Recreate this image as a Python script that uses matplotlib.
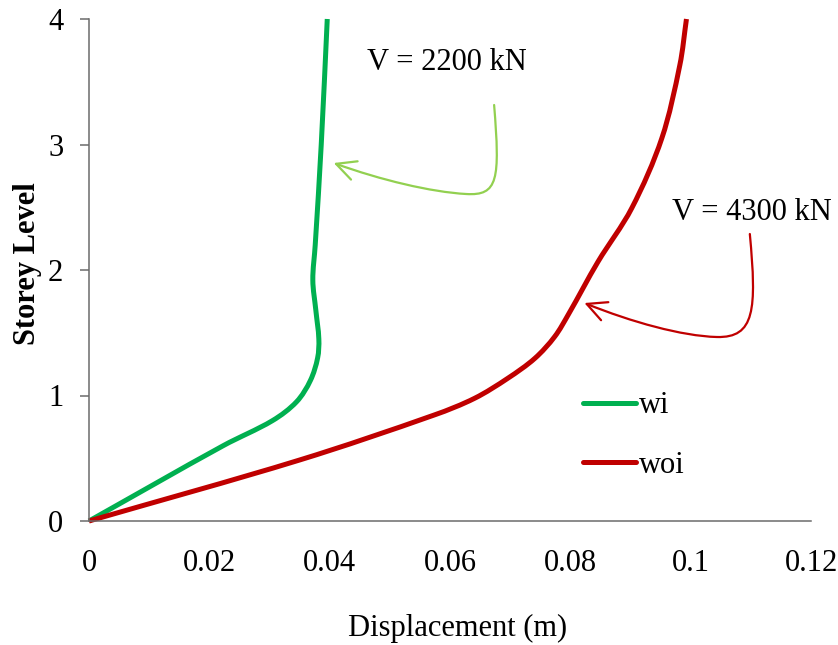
import matplotlib
matplotlib.use("Agg")
import matplotlib.pyplot as plt
import numpy as np
from matplotlib.path import Path
from matplotlib.patches import FancyArrowPatch, PathPatch
from matplotlib.lines import Line2D

plt.rcParams['font.family'] = ['Liberation Serif', 'DejaVu Serif']

# ---- data ----
wi_x = [0, 0.0223, 0.0305, 0.0345, 0.0368, 0.0380, 0.0382, 0.0377, 0.0372, 0.0376, 0.0386, 0.0396]
wi_y = [0, 0.60, 0.80, 0.95, 1.12, 1.30, 1.45, 1.68, 1.92, 2.20, 3.00, 4.00]

woi_x = [0, 0.0350, 0.0574, 0.0641, 0.0696, 0.0741, 0.0774, 0.0797, 0.0846, 0.0902,
         0.0952, 0.0982, 0.0993]
woi_y = [0, 0.486, 0.845, 0.978, 1.137, 1.296, 1.469, 1.648, 2.066, 2.492,
         3.049, 3.633, 4.00]

series_names = ['wi', 'woi']
series_colors = ['#00B050', '#C00000']
x_ticks = [0, 0.02, 0.04, 0.06, 0.08, 0.1, 0.12]
x_tick_labels = ['0', '0.02', '0.04', '0.06', '0.08', '0.1', '0.12']
y_ticks = [0, 1, 2, 3, 4]
annot_texts = ['V = 2200 kN', 'V = 4300 kN']

W, H = 838, 645
fig = plt.figure(figsize=(W / 100, H / 100), dpi=100)
L, R, T, B = 89, 811, 19, 521
ax = fig.add_axes([L / W, 1 - B / H, (R - L) / W, (B - T) / H])
XMAX, YMAX = 0.12, 4
ax.set_xlim(0, XMAX)
ax.set_ylim(0, YMAX)

FS = 22
LW = 3.6


def smooth_path(xs, ys):
    """Smoothed line through the points (chord-length Catmull-Rom, Bezier path)."""
    sx, sy = (R - L) / XMAX, (B - T) / YMAX
    P = np.column_stack([np.asarray(xs) * sx, np.asarray(ys) * sy])
    n = len(P)
    d = np.hypot(*np.diff(P, axis=0).T)
    t = np.concatenate([[0], np.cumsum(d)])
    M = np.zeros_like(P)
    M[0] = (P[1] - P[0]) / d[0]
    M[-1] = (P[-1] - P[-2]) / d[-1]
    for i in range(1, n - 1):
        M[i] = (P[i + 1] - P[i - 1]) / (t[i + 1] - t[i - 1])
    verts = [P[0]]
    codes = [Path.MOVETO]
    for i in range(n - 1):
        h = d[i] / 3.0
        verts += [P[i] + M[i] * h, P[i + 1] - M[i + 1] * h, P[i + 1]]
        codes += [Path.CURVE4] * 3
    V = np.array(verts)
    V[:, 0] /= sx
    V[:, 1] /= sy
    return Path(V, codes)


for xs, ys, c in [(wi_x, wi_y, series_colors[0]), (woi_x, woi_y, series_colors[1])]:
    ax.add_patch(PathPatch(smooth_path(xs, ys), fill=False, edgecolor=c, lw=LW,
                           capstyle='butt', joinstyle='round', clip_on=False,
                           transform=ax.transData))

ax.set_xticks(x_ticks)
ax.set_xticklabels(x_tick_labels)
ax.set_yticks(y_ticks)

spine_col = '#6b6b6b'
for s in ['top', 'right']:
    ax.spines[s].set_visible(False)
for s in ['left', 'bottom']:
    ax.spines[s].set_color(spine_col)
    ax.spines[s].set_linewidth(1.1)
ax.tick_params(axis='y', direction='out', length=6.5, width=1.1, color=spine_col,
               labelsize=FS, pad=12)
ax.tick_params(axis='x', length=0, labelsize=FS, pad=20)

fig.text(458 / W, 1 - 628 / H, 'Displacement (m)', ha='center', va='center', fontsize=FS)
fig.text(28 / W, 1 - 264 / H, 'Storey Level', ha='center', va='center', fontsize=FS,
         fontweight='bold', rotation=90)

handles = [Line2D([], [], color=c, lw=LW, solid_capstyle='round') for c in series_colors]
ax.legend(handles, series_names, loc='center left', bbox_to_anchor=(0.684, 0.170),
          frameon=False, fontsize=FS, handlelength=1.75, handletextpad=0.1,
          labelspacing=1.0, borderpad=0, borderaxespad=0)


# annotations
def px(x, y):
    return ((x - L) / 6000.0, (B - y) / 125.5)


ax.text(*px(446, 63), annot_texts[0], ha='center', va='center', fontsize=FS, clip_on=False)
ax.text(*px(750, 213), annot_texts[1], ha='center', va='center', fontsize=FS, clip_on=False)

codes = [Path.MOVETO, Path.CURVE4, Path.CURVE4, Path.CURVE4,
         Path.CURVE4, Path.CURVE4, Path.CURVE4]
g_pts = [px(493, 105), px(499, 180), px(497, 196), px(465, 194),
         px(430, 192), px(380, 180), px(333, 163)]
r_pts = [px(748, 234), px(755, 310), px(753, 338), px(715, 337),
         px(680, 336), px(630, 322), px(583, 303)]
for pts, col in [(g_pts, '#92D050'), (r_pts, '#C00000')]:
    arr = FancyArrowPatch(path=Path(pts, codes), arrowstyle='->,head_length=0.7,head_width=0.35',
                          mutation_scale=20, color=col, lw=1.6, transform=ax.transData,
                          clip_on=False)
    ax.add_patch(arr)

fig.savefig('out.png', dpi=100)
